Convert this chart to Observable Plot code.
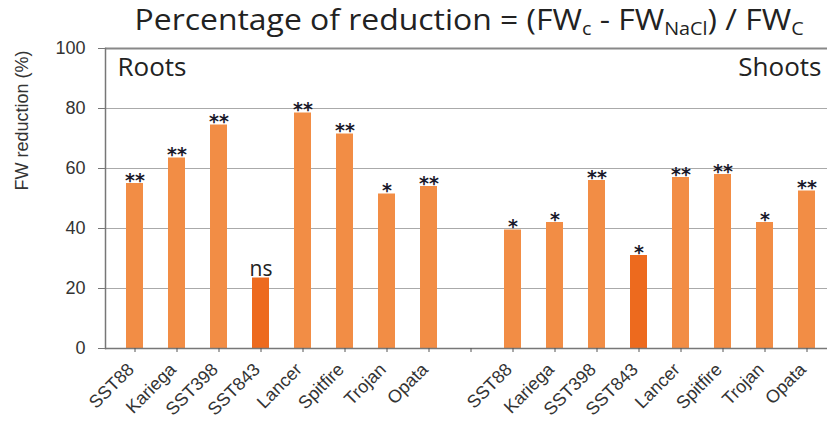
<!DOCTYPE html>
<html>
<head>
<meta charset="utf-8">
<script src="https://cdn.jsdelivr.net/npm/d3@7"></script>
<script src="https://cdn.jsdelivr.net/npm/@observablehq/plot@0.6"></script>
<style>
  html, body { margin: 0; padding: 0; background: #fff; }
  #wrap { width: 827px; height: 426px; position: relative; overflow: hidden; }
  #title { height: 38px; display: flex; justify-content: center; align-items: center; padding-left: 120px; padding-right: 8px; box-sizing: border-box; }
  #title span.t { display: inline-block; font-family: "Open Sans", Lato, sans-serif; font-size: 29px; color: #222;
           line-height: 36px; white-space: nowrap; transform: scaleX(1.1); }
  #title sub { font-size: 18px; vertical-align: -5px; line-height: 0; }
  #chart svg { display: block; }
</style>
</head>
<body>
<div id="wrap">
  <div id="title"><span class="t">Percentage of reduction = (FW<sub>c</sub> - FW<sub>NaCl</sub>) / FW<sub>C</sub></span></div>
  <div id="chart"></div>
</div>
<script>
const categories = ["SST88", "Kariega", "SST398", "SST843", "Lancer", "Spitfire", "Trojan", "Opata"];
const rootValues = [55, 63.5, 74.5, 23.5, 78.5, 71.5, 51.5, 54];
const shootValues = [39.5, 42, 56, 31, 57, 58, 42, 52.5];
const rootSig = ["**", "**", "**", "ns", "**", "**", "*", "**"];
const shootSig = ["*", "*", "**", "*", "**", "**", "*", "**"];
const yTicks = [0, 20, 40, 60, 80, 100];
const groupLabels = ["Roots", "Shoots"];
const yLabel = "FW reduction (%)";
const highlight = "SST843";

const rows = [
  ...categories.map((c, i) => ({key: "R:" + c, cat: c, value: rootValues[i], sig: rootSig[i]})),
  ...categories.map((c, i) => ({key: "S:" + c, cat: c, value: shootValues[i], sig: shootSig[i]}))
];
const domain = [...categories.map(c => "R:" + c), "gap", ...categories.map(c => "S:" + c)];

const chart = Plot.plot({
  width: 827,
  height: 388,
  marginTop: 10,
  marginBottom: 78,
  marginLeft: 105,
  marginRight: 0,
  style: {fontFamily: "'Liberation Sans', Arial, sans-serif", fontSize: "15px", background: "transparent", color: "#333"},
  x: {domain, range: [105, 835], paddingInner: 0.6, paddingOuter: 0.3},
  y: {domain: [0, 100], ticks: yTicks},
  marks: [
    Plot.ruleY(yTicks.filter(v => v > 0 && v < 100), {stroke: "#aaa", strokeWidth: 1.2}),
    Plot.ruleY([100], {stroke: "#888", strokeWidth: 2.2}),
    Plot.barY(rows, {x: "key", y: "value", fill: d => d.cat === highlight ? "#ED6A1E" : "#F28D45"}),
    Plot.ruleY([0], {stroke: "#777", strokeWidth: 1.5}),
    Plot.frame({anchor: "left", stroke: "#777", strokeWidth: 1.5}),
    Plot.axisY({ticks: yTicks, tickSize: 7, tickPadding: 13, fontSize: 18, fill: "#333", stroke: "#777", label: null}),
    Plot.text([yLabel], {frameAnchor: "left", dx: -83, dy: -8, rotate: -90, text: d => d, fontSize: 18, fill: "#333"}),
    Plot.axisX({tickSize: 4, stroke: "#555", tickFormat: () => "", label: null}),
    Plot.axisX({tickSize: 0, tickRotate: -45, fontSize: 18, fill: "#333", tickPadding: 10, dx: -4, dy: 8,
                tickFormat: k => k === "gap" ? "" : k.slice(2), label: null}),
    Plot.text(rows.filter(d => d.sig !== "ns"), {x: "key", y: "value", text: "sig", dy: 3, lineAnchor: "bottom",
                fontSize: 19, fontWeight: "bold", fill: "#1a1a2a", fontFamily: "'DejaVu Sans', sans-serif"}),
    Plot.text(rows.filter(d => d.sig === "ns"), {x: "key", y: "value", text: "sig", dy: -2, lineAnchor: "bottom",
                fontSize: 21, fill: "#222", fontFamily: "'Open Sans', sans-serif"}),
    Plot.text([groupLabels[0]], {frameAnchor: "top-left", dx: 12, dy: 9, text: d => d, fontSize: 26,
                fill: "#222", fontFamily: "'Open Sans', sans-serif"}),
    Plot.text([groupLabels[1]], {frameAnchor: "top-right", dx: -6, dy: 9, text: d => d, fontSize: 26,
                fill: "#222", fontFamily: "'Open Sans', sans-serif"})
  ]
});
document.getElementById("chart").appendChild(chart);
</script>
</body>
</html>
